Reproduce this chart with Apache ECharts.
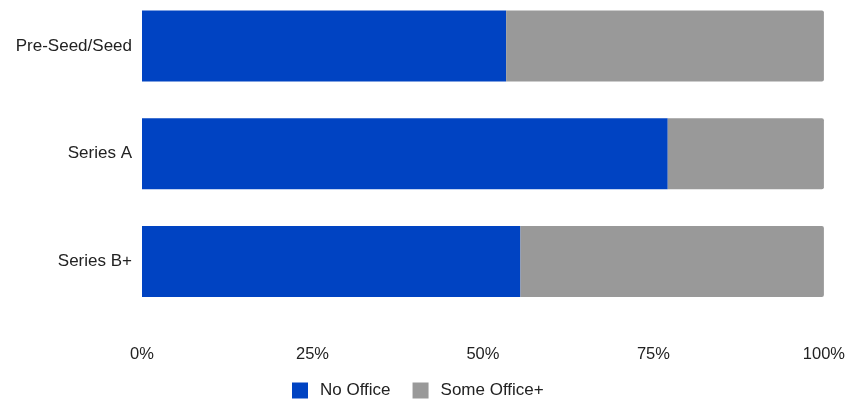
<!DOCTYPE html>
<html><head><meta charset="utf-8">
<script src="https://cdn.jsdelivr.net/npm/echarts@6/dist/echarts.min.js"></script>
<style>html,body{margin:0;padding:0;background:#fff}#c{width:848px;height:400px}</style>
</head><body><div id="c"></div>
<script>
var categories = ["Pre-Seed/Seed", "Series A", "Series B+"];
var noOffice = [53.4, 77.1, 55.5];
var someOffice = [46.6, 22.9, 44.5];
var seriesNames = ["No Office", "Some Office+"];
var chart = echarts.init(document.getElementById('c'));
chart.setOption({
  animation: false,
  textStyle: {fontFamily: "Liberation Sans, Arial, sans-serif"},
  grid: {left: 142, right: 21, top: 46, bottom: 138.5},
  legend: {
    data: seriesNames, bottom: 1, left: 292, padding: 0, itemWidth: 16, itemHeight: 16, itemGap: 22,
    icon: 'rect',
    textStyle: {fontSize: 17, color: '#222', fontFamily: "Liberation Sans, Arial, sans-serif", padding: [0, 0, 0, 7]}
  },
  xAxis: {
    type: 'value', min: 0, max: 100, interval: 25,
    axisLabel: {formatter: '{value}%', fontSize: 16.5, color: '#222', margin: 84},
    splitLine: {show: false}, axisLine: {show: false}, axisTick: {show: false}
  },
  yAxis: {
    type: 'category', data: categories, inverse: true, boundaryGap: false,
    axisLabel: {fontSize: 17, color: '#222', margin: 10},
    axisLine: {show: false}, axisTick: {show: false}, splitLine: {show: false}
  },
  series: [
    {name: seriesNames[0], type: 'bar', stack: 'a', data: noOffice, barWidth: 71,
     itemStyle: {color: '#0043C2'}},
    {name: seriesNames[1], type: 'bar', stack: 'a', data: someOffice, barWidth: 71,
     itemStyle: {color: '#999999', borderRadius: [0, 2, 2, 0]}}
  ]
});
</script></body></html>
